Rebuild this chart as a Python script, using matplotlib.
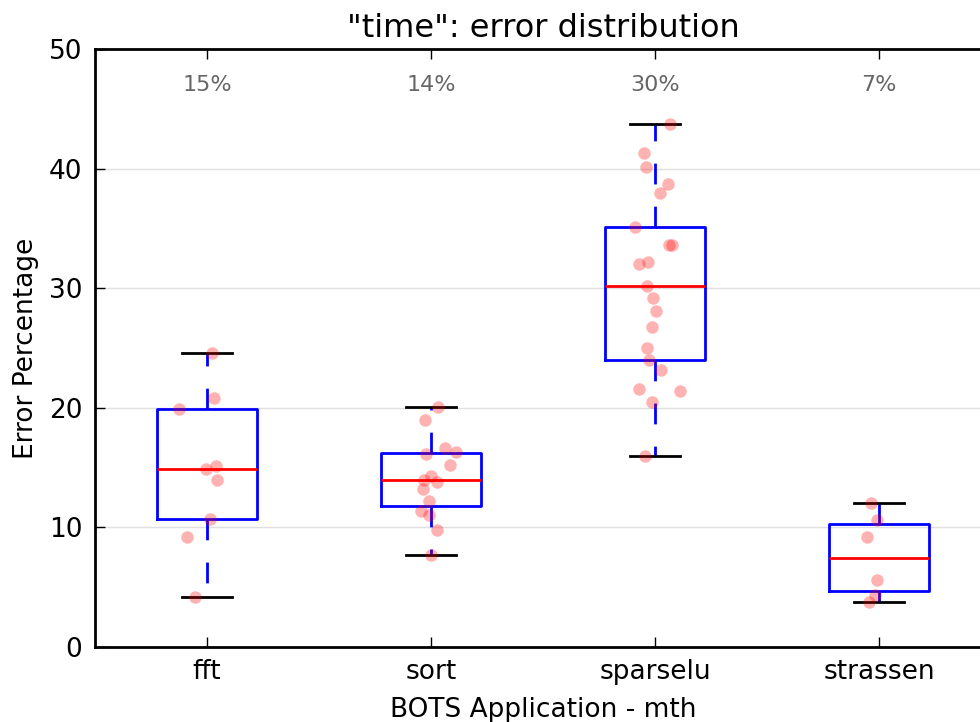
import numpy as np
import matplotlib
matplotlib.use("Agg")
import matplotlib.pyplot as plt

# applications on the x axis
apps = ["fft", "sort", "sparselu", "strassen"]

# error percentages for each run
fft_err = [24.6, 20.8, 19.9, 14.9, 15.1, 13.96, 10.7, 9.2, 4.2]
sort_err = [20.1, 19.0, 16.6, 16.3, 16.1, 15.2, 14.3, 14.0, 13.8, 13.2,
            12.2, 11.4, 11.0, 9.8, 7.7]
sparselu_err = [43.75, 41.3, 40.1, 38.7, 38.0, 35.1, 33.6, 33.6, 32.2, 32.0,
                30.2, 29.2, 28.1, 26.75, 25.0, 24.0, 23.2, 21.6, 21.4, 20.5, 16.0]
strassen_err = [12.0, 10.6, 9.2, 5.6, 4.35, 3.8]

# horizontal jitter of the dots, as it appears in the picture
fft_jit = [0.022, 0.03, -0.124, -0.006, 0.039, 0.045, 0.013, -0.088, -0.054]
sort_jit = [0.03, -0.027, 0.064, 0.113, -0.022, 0.085, 0.0, -0.03, 0.028,
            -0.034, -0.008, -0.046, -0.008, 0.028, -0.001]
sparselu_jit = [0.066, -0.048, -0.04, 0.057, 0.024, -0.088, 0.064, 0.075, -0.03,
                -0.071, -0.034, -0.01, 0.004, -0.012, -0.036, -0.027, 0.025,
                -0.073, 0.112, -0.012, -0.046]
strassen_jit = [-0.037, -0.008, -0.055, -0.009, -0.018, -0.043]

data = [fft_err, sort_err, sparselu_err, strassen_err]
jitter = [fft_jit, sort_jit, sparselu_jit, strassen_jit]
pos = np.arange(1, len(apps) + 1)

fig = plt.figure(figsize=(9.8, 7.22), dpi=100)
ax = fig.add_axes([0.0969, 0.1039, 0.9143, 0.8282])

ax.yaxis.grid(True, color="#e0e0e0", linewidth=1)
ax.set_axisbelow(True)

bp = ax.boxplot(data, positions=pos, widths=0.45, whis=[0, 100],
                showfliers=False)
plt.setp(bp["boxes"], color="blue", linewidth=2)
plt.setp(bp["medians"], color="red", linewidth=2)
plt.setp(bp["whiskers"], color="blue", linewidth=2, linestyle=(0, (7.5, 8)))
plt.setp(bp["caps"], color="black", linewidth=2)

for p, vals, jit in zip(pos, data, jitter):
    ax.plot(p + np.array(jit), vals, "o", color="red", alpha=0.3,
            markersize=9, markeredgewidth=0)

# median label above each box
for p, vals in zip(pos, data):
    ax.text(p, 47, "%d%%" % round(np.median(vals)), ha="center", va="center",
            color="#666666", fontsize=16)

ax.set_xlim(0.5, 4.5)
ax.set_ylim(0, 50)
ax.set_xticks(pos)
ax.set_xticklabels(apps, fontsize=19)
ax.set_yticks(range(0, 51, 10))
ax.tick_params(axis="y", labelsize=19)
ax.tick_params(direction="in", length=7, width=1, top=True, right=True,
               pad=9)
for s in ax.spines.values():
    s.set_linewidth(2)

ax.set_title('"time": error distribution', fontsize=23, pad=9)
ax.set_xlabel("BOTS Application - mth", fontsize=19, labelpad=8)
ax.set_ylabel("Error Percentage", fontsize=19, labelpad=7)

fig.savefig("out.png", dpi=100)
